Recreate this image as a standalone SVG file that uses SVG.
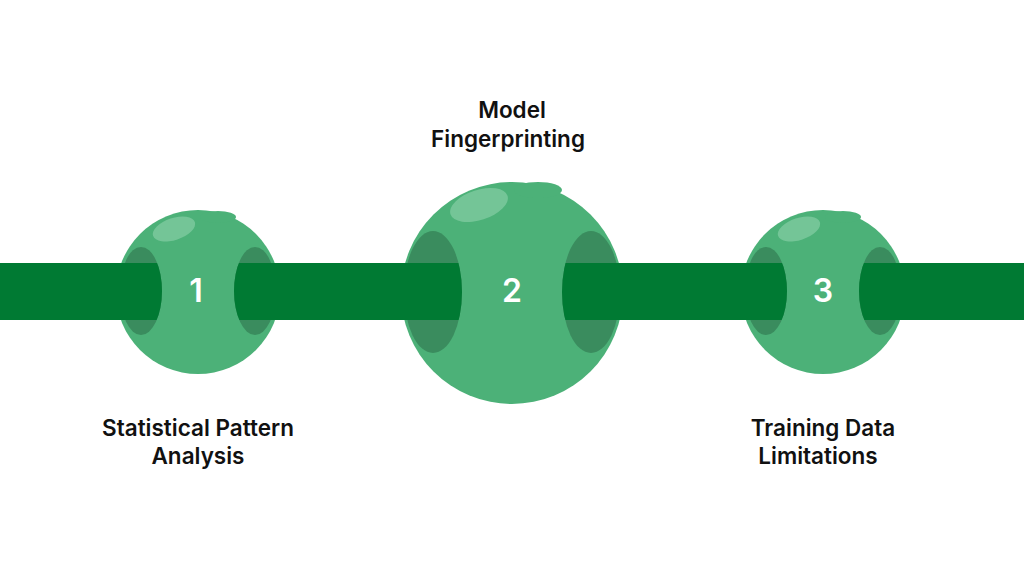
<svg xmlns="http://www.w3.org/2000/svg" width="1024" height="576" viewBox="0 0 1024 576">
<style>
.rod{fill:#007A33}.body{fill:#4CB178}.hole{fill:#3A8C5E}.hl{fill:#74C597}
.lbl{font-family:Inter,"Noto Sans",sans-serif;font-weight:600;font-size:22.5px;fill:#111;text-anchor:middle}
.num{font-family:Inter,"Noto Sans",sans-serif;font-weight:600;font-size:32px;fill:#fff;text-anchor:middle}
</style>
<defs>
<clipPath id="h1"><ellipse cx="141" cy="291" rx="21" ry="44"/><ellipse cx="255" cy="291" rx="21" ry="44"/><rect x="0" y="0" width="141" height="576"/><rect x="255" y="0" width="200" height="576"/></clipPath>
<clipPath id="h2"><ellipse cx="433" cy="292" rx="29" ry="61"/><ellipse cx="591" cy="292" rx="29" ry="61"/><rect x="0" y="0" width="433" height="576"/><rect x="591" y="0" width="200" height="576"/></clipPath>
<clipPath id="h3"><ellipse cx="766" cy="291" rx="21" ry="44"/><ellipse cx="880" cy="291" rx="21" ry="44"/><rect x="600" y="0" width="166" height="576"/><rect x="880" y="0" width="200" height="576"/></clipPath>
</defs>
<g id="connectors"><rect class="rod" x="0" y="263" width="1024" height="57"/></g>
<g id="node1">
<circle class="body" cx="198" cy="292" r="82"/>
<ellipse class="body" cx="218" cy="217" rx="18" ry="6"/>
<ellipse class="hl" cx="174" cy="229" rx="22" ry="11" transform="rotate(-18 174 229)"/>
<ellipse class="hole" cx="141" cy="291" rx="21" ry="44"/><ellipse class="hole" cx="255" cy="291" rx="21" ry="44"/>
<rect class="rod" x="0" y="263" width="400" height="57" clip-path="url(#h1)"/>
<text class="num" x="196" y="302">1</text>
</g>
<g id="node2">
<circle class="body" cx="512" cy="293" r="111"/>
<ellipse class="body" cx="538" cy="190" rx="24" ry="8"/>
<ellipse class="hl" cx="479" cy="205" rx="30" ry="15" transform="rotate(-18 479 205)"/>
<ellipse class="hole" cx="433" cy="292" rx="29" ry="61"/><ellipse class="hole" cx="591" cy="292" rx="29" ry="61"/>
<rect class="rod" x="300" y="263" width="450" height="57" clip-path="url(#h2)"/>
<text class="num" x="512" y="302">2</text>
</g>
<g id="node3">
<circle class="body" cx="823" cy="292" r="82"/>
<ellipse class="body" cx="843" cy="217" rx="18" ry="6"/>
<ellipse class="hl" cx="799" cy="229" rx="22" ry="11" transform="rotate(-18 799 229)"/>
<ellipse class="hole" cx="766" cy="291" rx="21" ry="44"/><ellipse class="hole" cx="880" cy="291" rx="21" ry="44"/>
<rect class="rod" x="620" y="263" width="404" height="57" clip-path="url(#h3)"/>
<text class="num" x="823" y="302">3</text>
</g>
<g id="labels">
<text class="lbl" x="512" y="118">Model</text><text class="lbl" x="508" y="147">Fingerprinting</text>
<text class="lbl" x="198" y="436">Statistical Pattern</text><text class="lbl" x="198" y="464">Analysis</text>
<text class="lbl" x="823" y="436">Training Data</text><text class="lbl" x="818" y="464">Limitations</text>
</g>
</svg>
